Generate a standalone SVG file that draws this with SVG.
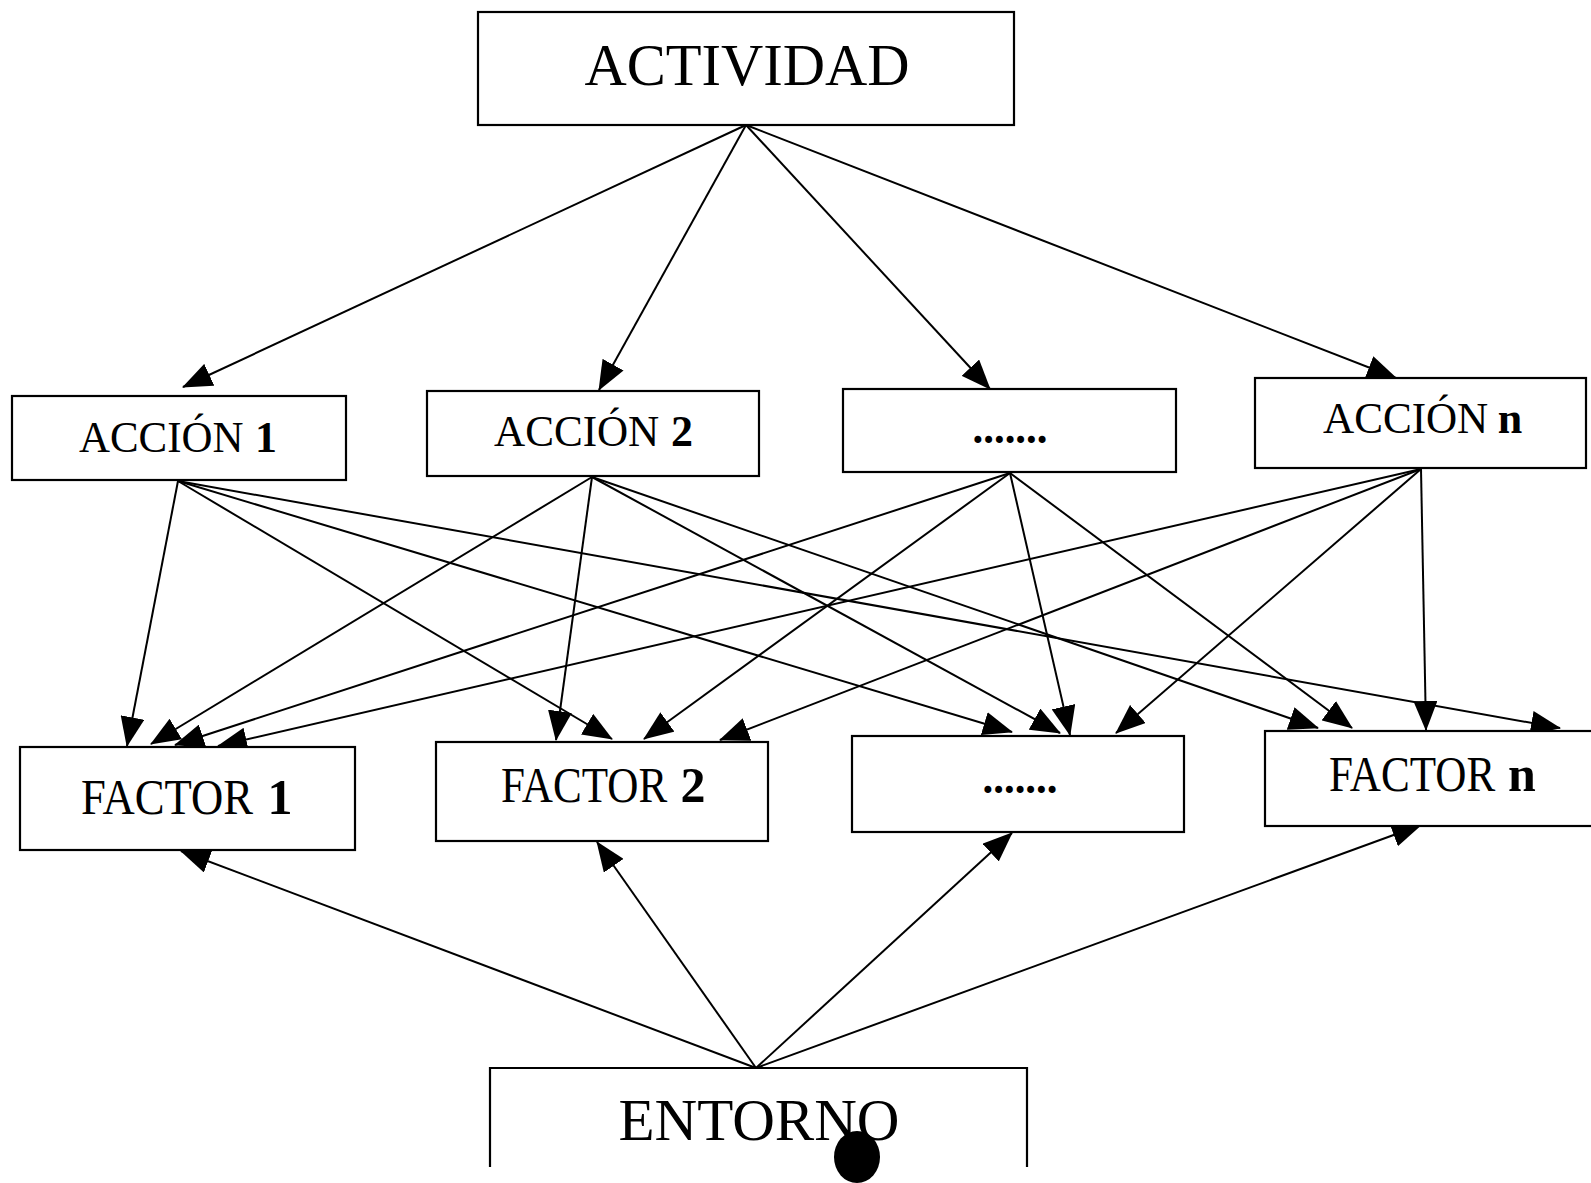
<svg xmlns="http://www.w3.org/2000/svg" width="1591" height="1183" viewBox="0 0 1591 1183">
  <style>
    .box { fill: #ffffff; stroke: #000000; stroke-width: 2.2; }
    .lbl { font-family: "Liberation Serif", "Times New Roman", serif; fill: #000000; }
    .mid { text-anchor: middle; }
    .big { font-size: 60px; }
    .act { font-size: 44px; }
    .fac { font-size: 50px; }
    .b { font-weight: bold; }
    .edge { stroke: #000000; stroke-width: 2; fill: none; marker-end: url(#arrow); }
  </style>
  <defs>
    <marker id="arrow" markerUnits="userSpaceOnUse" markerWidth="30" markerHeight="24" viewBox="0 0 30 24" refX="29" refY="12" orient="auto">
      <path d="M0,0 L30,12 L0,24 Z" fill="#000000"/>
    </marker>
  </defs>

  <rect width="1591" height="1183" fill="#ffffff"/>

  <!-- connectors -->
  <g id="connectors">
    <!-- activity to actions -->
    <line class="edge" x1="746" y1="125" x2="183" y2="387"/>
    <line class="edge" x1="746" y1="125" x2="599" y2="390"/>
    <line class="edge" x1="746" y1="125" x2="990" y2="389"/>
    <line class="edge" x1="746" y1="125" x2="1396" y2="378"/>

    <!-- action 1 to factors -->
    <line class="edge" x1="178" y1="481" x2="127" y2="746"/>
    <line class="edge" x1="178" y1="481" x2="612" y2="739"/>
    <line class="edge" x1="178" y1="481" x2="1012" y2="732"/>
    <line class="edge" x1="178" y1="481" x2="1560" y2="728"/>

    <!-- action 2 to factors -->
    <line class="edge" x1="592" y1="477" x2="151" y2="744"/>
    <line class="edge" x1="592" y1="477" x2="556" y2="740"/>
    <line class="edge" x1="592" y1="477" x2="1060" y2="733"/>
    <line class="edge" x1="592" y1="477" x2="1318" y2="728"/>

    <!-- middle action to factors -->
    <line class="edge" x1="1010" y1="473" x2="175" y2="745"/>
    <line class="edge" x1="1010" y1="473" x2="644" y2="739"/>
    <line class="edge" x1="1010" y1="473" x2="1070" y2="735"/>
    <line class="edge" x1="1010" y1="473" x2="1352" y2="728"/>

    <!-- action n to factors -->
    <line class="edge" x1="1421" y1="469" x2="218" y2="746"/>
    <line class="edge" x1="1421" y1="469" x2="720" y2="740"/>
    <line class="edge" x1="1421" y1="469" x2="1116" y2="733"/>
    <line class="edge" x1="1421" y1="469" x2="1426" y2="730"/>

    <!-- environment to factors -->
    <line class="edge" x1="756" y1="1068" x2="181" y2="851"/>
    <line class="edge" x1="756" y1="1068" x2="597" y2="842"/>
    <line class="edge" x1="756" y1="1068" x2="1012" y2="833"/>
    <line class="edge" x1="756" y1="1068" x2="1421" y2="825"/>
  </g>

  <!-- top level -->
  <g id="actividad">
    <rect class="box" x="478" y="12" width="536" height="113"/>
    <text class="lbl mid big" x="747" y="85" textLength="325" lengthAdjust="spacingAndGlyphs">ACTIVIDAD</text>
  </g>

  <!-- actions -->
  <g id="accion1">
    <rect class="box" x="12" y="396" width="334" height="84"/>
    <text class="lbl act" transform="translate(79 452) scale(0.975 1)">ACCIÓN</text>
    <text class="lbl mid act b" x="266" y="452">1</text>
  </g>
  <g id="accion2">
    <rect class="box" x="427" y="391" width="332" height="85"/>
    <text class="lbl act" transform="translate(494 446) scale(0.98 1)">ACCIÓN</text>
    <text class="lbl mid act b" x="682" y="446">2</text>
  </g>
  <g id="accion-etc">
    <rect class="box" x="843" y="389" width="333" height="83"/>
    <text class="lbl mid act b" x="1010" y="443" textLength="75" lengthAdjust="spacingAndGlyphs">.......</text>
  </g>
  <g id="accionN">
    <rect class="box" x="1255" y="378" width="331" height="90"/>
    <text class="lbl act" transform="translate(1323 433) scale(0.98 1)">ACCIÓN</text>
    <text class="lbl mid act b" x="1510" y="433">n</text>
  </g>

  <!-- factors -->
  <g id="factor1">
    <rect class="box" x="20" y="747" width="335" height="103"/>
    <text class="lbl fac" transform="translate(81 814) scale(0.893 1)">FACTOR</text>
    <text class="lbl mid fac b" x="280" y="814">1</text>
  </g>
  <g id="factor2">
    <rect class="box" x="436" y="742" width="332" height="99"/>
    <text class="lbl fac" transform="translate(501 802) scale(0.863 1)">FACTOR</text>
    <text class="lbl mid fac b" x="693" y="802">2</text>
  </g>
  <g id="factor-etc">
    <rect class="box" x="852" y="736" width="332" height="96"/>
    <text class="lbl mid act b" x="1020" y="793" textLength="75" lengthAdjust="spacingAndGlyphs">.......</text>
  </g>
  <g id="factorN">
    <rect class="box" x="1265" y="731" width="340" height="95"/>
    <text class="lbl fac" transform="translate(1329 791) scale(0.863 1)">FACTOR</text>
    <text class="lbl mid fac b" x="1522" y="791">n</text>
  </g>

  <!-- environment (lower edge runs off the page) -->
  <g id="entorno">
    <path d="M490,1167 L490,1068 L1027,1068 L1027,1167" fill="#ffffff" stroke="#000000" stroke-width="2.2"/>
    <text class="lbl mid big" x="759" y="1140" textLength="281" lengthAdjust="spacingAndGlyphs">ENTORNO</text>
    <ellipse cx="857" cy="1157" rx="23" ry="26" fill="#000000"/>
  </g>
</svg>
